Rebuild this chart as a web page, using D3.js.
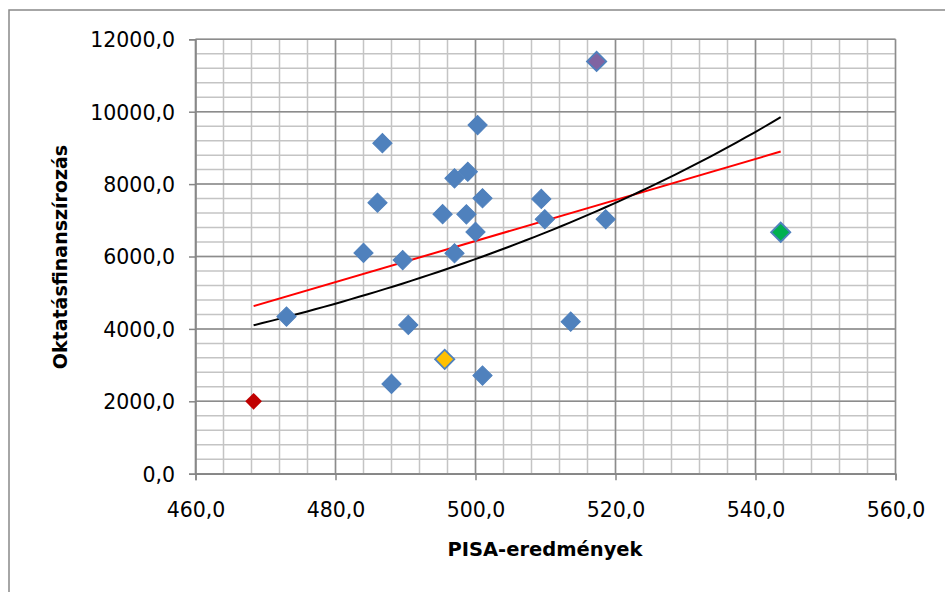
<!DOCTYPE html>
<html>
<head>
<meta charset="utf-8">
<script src="https://cdn.jsdelivr.net/npm/d3@7"></script>
<style>
  html, body { margin: 0; padding: 0; background: #fff; }
  svg { display: block; }
</style>
</head>
<body>
<script>
const WIDTH = 945;
const HEIGHT = 592;

// PISA score vs. education funding, one point per country
const pisa = [468.3, 473.0, 484.0, 486.0, 486.7, 488.0, 489.6, 490.4, 495.3, 495.6,
  497.0, 497.0, 498.7, 498.9, 500.0, 500.3, 501.0, 501.0, 509.4, 509.9,
  513.6, 517.3, 518.6, 543.6];
const funding = [2000, 4340, 6100, 7485, 9130, 2480, 5900, 4110, 7170, 3160,
  8160, 6090, 7165, 8340, 6680, 9630, 7610, 2710, 7590, 7030,
  4200, 11390, 7030, 6670];
// highlighted points (index -> fill)
const highlight = { 0: "#c00000", 9: "#ffc000", 21: "#8064a2", 23: "#00b050" };

const xTicks = [460, 480, 500, 520, 540, 560];
const yTicks = [0, 2000, 4000, 6000, 8000, 10000, 12000];

const fmt = (v) => d3.format(".1f")(v).replace(".", ",");
const FONT = "'DejaVu Sans', 'Liberation Sans', sans-serif";

const x = d3.scaleLinear().domain([460, 560]).range([195.5, 895.5]);
const y = d3.scaleLinear().domain([0, 12000]).range([473.7, 39.3]);

const svg = d3.select("body").append("svg")
  .attr("width", WIDTH)
  .attr("height", HEIGHT);

// chart frame (runs off the right and bottom edge)
svg.append("rect")
  .attr("x", 9).attr("y", 10)
  .attr("width", WIDTH).attr("height", HEIGHT)
  .attr("fill", "#fff")
  .attr("stroke", "#898989")
  .attr("stroke-width", 1.5);

// gridlines: minor every 1/5 of a major step
const xMinor = d3.range(xTicks[0], xTicks[xTicks.length - 1] + 0.01, (xTicks[1] - xTicks[0]) / 5);
const yMinor = d3.range(yTicks[0], yTicks[yTicks.length - 1] + 0.01, (yTicks[1] - yTicks[0]) / 5);

const grid = svg.append("g");
grid.selectAll(".vminor").data(xMinor).join("line")
  .attr("x1", (d) => x(d)).attr("x2", (d) => x(d))
  .attr("y1", y(12000)).attr("y2", y(0))
  .attr("stroke", "#c4c4c4").attr("stroke-width", 1.5);
grid.selectAll(".hminor").data(yMinor).join("line")
  .attr("x1", x(460)).attr("x2", x(560))
  .attr("y1", (d) => y(d)).attr("y2", (d) => y(d))
  .attr("stroke", "#c4c4c4").attr("stroke-width", 1.5);
grid.selectAll(".vmajor").data(xTicks).join("line")
  .attr("x1", (d) => x(d)).attr("x2", (d) => x(d))
  .attr("y1", y(12000)).attr("y2", y(0))
  .attr("stroke", "#8c8c8c").attr("stroke-width", 1.5);
grid.selectAll(".hmajor").data(yTicks).join("line")
  .attr("x1", x(460)).attr("x2", x(560))
  .attr("y1", (d) => y(d)).attr("y2", (d) => y(d))
  .attr("stroke", "#8c8c8c").attr("stroke-width", 1.5);

// axes
const yAxis = svg.append("g")
  .attr("transform", `translate(${x(460)},0)`)
  .call(d3.axisLeft(y).tickValues(yTicks).tickFormat(fmt).tickSize(6.5).tickPadding(14));
const xAxis = svg.append("g")
  .attr("transform", `translate(0,${y(0)})`)
  .call(d3.axisBottom(x).tickValues(xTicks).tickFormat(fmt).tickSize(6.5).tickPadding(22));
[xAxis, yAxis].forEach((ax) => {
  ax.selectAll(".domain, .tick line").attr("stroke", "#868686").attr("stroke-width", 1.5);
  ax.selectAll("text").attr("fill", "#000").attr("font-size", "20.5px").attr("font-family", FONT);
});
yAxis.selectAll("text").attr("dy", "0.36em");

// trendlines (least squares, as the spreadsheet does)
const pts = pisa.map((p, i) => ({ x: p, y: funding[i] }));
const mx = d3.mean(pts, (d) => d.x);
const my = d3.mean(pts, (d) => d.y);
const mly = d3.mean(pts, (d) => Math.log(d.y));
const sxx = d3.sum(pts, (d) => (d.x - mx) ** 2);
const slope = d3.sum(pts, (d) => (d.x - mx) * (d.y - my)) / sxx;
const intercept = my - slope * mx;
const bExp = d3.sum(pts, (d) => (d.x - mx) * (Math.log(d.y) - mly)) / sxx;
const aExp = Math.exp(mly - bExp * mx);
const [xMin, xMax] = d3.extent(pisa);

const line = d3.line().x((d) => x(d[0])).y((d) => y(d[1]));
svg.append("path")
  .attr("d", line([xMin, xMax].map((v) => [v, intercept + slope * v])))
  .attr("fill", "none").attr("stroke", "#ff0000").attr("stroke-width", 2);
const steps = d3.range(0, 61).map((i) => xMin + (xMax - xMin) * i / 60);
svg.append("path")
  .attr("d", line(steps.map((v) => [v, aExp * Math.exp(bExp * v)])))
  .attr("fill", "none").attr("stroke", "#000").attr("stroke-width", 2);

// markers: diamonds = squares turned 45 degrees
const order = pts.map((d, i) => i).sort((a, b) => (a in highlight) - (b in highlight));
svg.append("g").selectAll("path").data(order).join("path")
  .attr("transform", (i) => `translate(${x(pisa[i])},${y(funding[i])}) rotate(45)`)
  .attr("d", (i) => d3.symbol(d3.symbolSquare, i === 0 ? 140 : 185)())
  .attr("fill", (i) => highlight[i] || "#4f81bd")
  .attr("stroke", (i) => (i === 0 ? "none" : "#4f81bd"))
  .attr("stroke-width", (i) => (i in highlight ? 1.8 : 1));

// axis titles
svg.append("text")
  .attr("x", 545).attr("y", 556)
  .attr("text-anchor", "middle")
  .attr("font-family", FONT).attr("font-weight", "bold").attr("font-size", "19.5px")
  .text("PISA-eredmények");
svg.append("text")
  .attr("transform", "translate(67,257) rotate(-90)")
  .attr("text-anchor", "middle")
  .attr("font-family", FONT).attr("font-weight", "bold").attr("font-size", "19px")
  .text("Oktatásfinanszírozás");
</script>
</body>
</html>
